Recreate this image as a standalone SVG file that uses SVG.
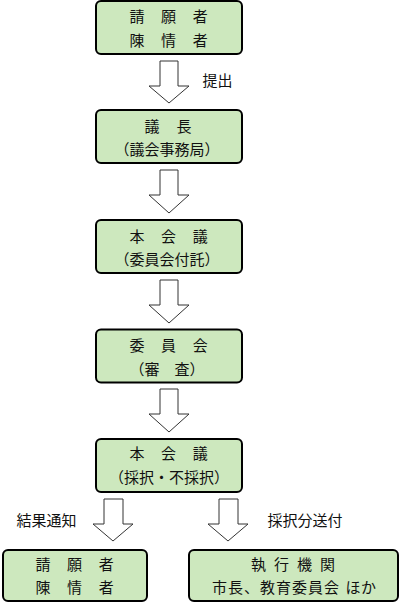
<svg xmlns="http://www.w3.org/2000/svg" width="400" height="603" viewBox="0 0 400 603">
<style>
.box{fill:#CDE8BE;stroke:#000;stroke-width:2}
.t{font-family:"Noto Sans CJK JP","Noto Sans CJK SC",sans-serif;font-size:15px;fill:#111}
.c{text-anchor:middle}
.arr{fill:#fff;stroke:#333;stroke-width:1}
</style>
<rect width="400" height="603" fill="#fff"/>
<g id="connectors">
<path class="arr" d="M160 61H178V86H189L169 103L149 86H160Z"/>
<path class="arr" d="M160 170H178V195H189L169 213L149 195H160Z"/>
<path class="arr" d="M160 280H178V305H189L169 323L149 305H160Z"/>
<path class="arr" d="M160 389H178V414H189L169 432L149 414H160Z"/>
<path class="arr" d="M104 499H123V524H133L113 541L93 524H104Z"/>
<path class="arr" d="M219 499H238V524H248L228 541L208 524H219Z"/>
<text class="t" x="202.5" y="85.5">提出</text>
<text class="t" x="16.5" y="525.5">結果通知</text>
<text class="t" x="267.5" y="525.5">採択分送付</text>
</g>
<g id="node1">
<rect class="box" x="96" y="1" width="146" height="53" rx="5"/>
<text class="t c" x="169" y="21.5" letter-spacing="0.8">請　願　者</text>
<text class="t c" x="169" y="46" letter-spacing="0.8">陳　情　者</text>
</g>
<g id="node2">
<rect class="box" x="96" y="110" width="146" height="53" rx="5"/>
<text class="t c" x="168.5" y="132" letter-spacing="1">議　長</text>
<text class="t c" x="167" y="154.5">（議会事務局）</text>
</g>
<g id="node3">
<rect class="box" x="96" y="220" width="146" height="53" rx="5"/>
<text class="t c" x="169" y="242" letter-spacing="0.8">本　会　議</text>
<text class="t c" x="167" y="264.5">（委員会付託）</text>
</g>
<g id="node4">
<rect class="box" x="96" y="329.5" width="146" height="53" rx="5"/>
<text class="t c" x="169" y="351" letter-spacing="0.8">委　員　会</text>
<text class="t c" x="167" y="374.5">（審　査）</text>
</g>
<g id="node5">
<rect class="box" x="96" y="439" width="146" height="53" rx="5"/>
<text class="t c" x="169" y="459" letter-spacing="0.8">本　会　議</text>
<text class="t c" x="169" y="482.5">（採択・不採択）</text>
</g>
<g id="node6">
<rect class="box" x="3" y="550" width="144" height="51" rx="5"/>
<text class="t c" x="75" y="570" letter-spacing="0.8">請　願　者</text>
<text class="t c" x="75" y="592.5" letter-spacing="0.8">陳　情　者</text>
</g>
<g id="node7">
<rect class="box" x="189" y="550" width="209" height="51" rx="5"/>
<text class="t" x="251 266 274 289 297 312 320" y="570">執 行 機 関</text>
<text class="t" x="212 228 244 260 276 292 308 324 340 345.5 361" y="592.5">市長、教育委員会 ほか</text>
</g>
</svg>
